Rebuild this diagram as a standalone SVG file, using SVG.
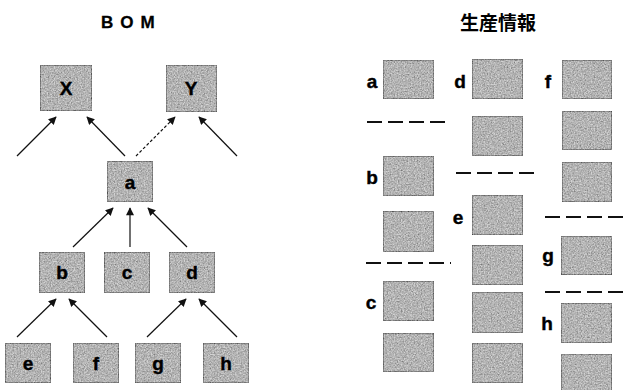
<svg xmlns="http://www.w3.org/2000/svg" width="627" height="390" viewBox="0 0 627 390">
<defs>
<filter id="grain" x="0" y="0" width="1" height="1" color-interpolation-filters="sRGB">
<feTurbulence type="fractalNoise" baseFrequency="0.7" numOctaves="2" seed="7" result="n"/>
<feColorMatrix in="n" type="matrix" values="0.6 0.6 0.6 0 -0.15  0.6 0.6 0.6 0 -0.15  0.6 0.6 0.6 0 -0.15  0 0 0 0 0.5" result="g"/>
<feComposite in="g" in2="SourceGraphic" operator="in" result="gc"/>
<feMerge><feMergeNode in="SourceGraphic"/><feMergeNode in="gc"/></feMerge>
</filter>
<marker id="ah" viewBox="0 0 10 10" refX="9" refY="5" markerWidth="9" markerHeight="8" markerUnits="userSpaceOnUse" orient="auto">
<path d="M0,0 L10,5 L0,10 Z" fill="#111"/>
</marker>
</defs>
<style>
.box{fill:#a6a6a6;stroke:#1a1a1a;stroke-width:1.5;filter:url(#grain)}
.lbl{font-family:"Liberation Sans",Arial,sans-serif;font-weight:bold;font-size:19px;fill:#000;stroke:#000;stroke-width:0.4;text-anchor:middle}
.slbl{font-family:"Liberation Sans",Arial,sans-serif;font-weight:bold;font-size:19px;fill:#000;stroke:#000;stroke-width:0.4;text-anchor:middle}
.title{font-family:"Liberation Sans",Arial,sans-serif;font-weight:bold;font-size:17px;fill:#000;stroke:#000;stroke-width:0.3}
.jtitle{font-family:"Noto Sans CJK JP",sans-serif;font-weight:bold;font-size:19px;fill:#000;text-anchor:middle}
.arr{stroke:#111;stroke-width:1.2;fill:none;marker-end:url(#ah)}
.dash{stroke:#111;stroke-width:2.2;stroke-dasharray:15 6;fill:none}
</style>
<rect width="627" height="390" fill="#fff"/>

<text class="title" x="101" y="28" letter-spacing="7">BOM</text>
<text class="jtitle" x="498" y="30">生産情報</text>

<g id="connectors">
<line class="arr" x1="17" y1="156" x2="56" y2="117"/>
<line class="arr" x1="125" y1="156" x2="87" y2="117"/>
<line class="arr" x1="136" y1="156" x2="175" y2="117" stroke-dasharray="3 2"/>
<line class="arr" x1="237" y1="156" x2="199" y2="117"/>
<line class="arr" x1="73" y1="247" x2="113" y2="208"/>
<line class="arr" x1="130" y1="247" x2="130" y2="208"/>
<line class="arr" x1="187" y1="247" x2="148" y2="208"/>
<line class="arr" x1="17" y1="337" x2="56" y2="299"/>
<line class="arr" x1="107" y1="337" x2="69" y2="299"/>
<line class="arr" x1="147" y1="337" x2="186" y2="299"/>
<line class="arr" x1="237" y1="337" x2="199" y2="299"/>
</g>

<g id="node-X"><rect class="box" x="40" y="65" width="52" height="46"/><text class="lbl" x="66" y="95">X</text></g>
<g id="node-Y"><rect class="box" x="166" y="65" width="51" height="47"/><text class="lbl" x="191" y="95">Y</text></g>
<g id="node-a"><rect class="box" x="107" y="161" width="46" height="41"/><text class="lbl" x="130" y="189">a</text></g>
<g id="node-b"><rect class="box" x="39" y="252" width="46" height="41"/><text class="lbl" x="62" y="279">b</text></g>
<g id="node-c"><rect class="box" x="104" y="252" width="46" height="41"/><text class="lbl" x="127" y="279">c</text></g>
<g id="node-d"><rect class="box" x="169" y="252" width="46" height="41"/><text class="lbl" x="192" y="279">d</text></g>
<g id="node-e"><rect class="box" x="5" y="343" width="46" height="40"/><text class="lbl" x="28" y="370">e</text></g>
<g id="node-f"><rect class="box" x="73" y="343" width="46" height="40"/><text class="lbl" x="96" y="370">f</text></g>
<g id="node-g"><rect class="box" x="135" y="343" width="46" height="40"/><text class="lbl" x="158" y="370">g</text></g>
<g id="node-h"><rect class="box" x="203" y="343" width="46" height="40"/><text class="lbl" x="226" y="370">h</text></g>

<g id="production">
<text class="slbl" x="372" y="88">a</text>
<rect class="box" x="383" y="60" width="51" height="39"/>
<line class="dash" x1="367" y1="122" x2="450" y2="122"/>
<text class="slbl" x="372" y="184">b</text>
<rect class="box" x="383" y="156" width="51" height="40"/>
<rect class="box" x="383" y="211" width="51" height="41"/>
<line class="dash" x1="366" y1="263" x2="451" y2="263"/>
<text class="slbl" x="371" y="309">c</text>
<rect class="box" x="383" y="281" width="51" height="40"/>
<rect class="box" x="383" y="333" width="51" height="39"/>

<text class="slbl" x="460" y="88">d</text>
<rect class="box" x="472" y="59" width="51" height="40"/>
<rect class="box" x="472" y="116" width="51" height="40"/>
<line class="dash" x1="456" y1="173" x2="540" y2="173"/>
<text class="slbl" x="458" y="224">e</text>
<rect class="box" x="472" y="195" width="51" height="40"/>
<rect class="box" x="472" y="245" width="51" height="40"/>
<rect class="box" x="472" y="292" width="51" height="41"/>
<rect class="box" x="472" y="343" width="51" height="40"/>

<text class="slbl" x="548" y="88">f</text>
<rect class="box" x="562" y="60" width="50" height="39"/>
<rect class="box" x="562" y="111" width="50" height="39"/>
<rect class="box" x="562" y="162" width="50" height="40"/>
<line class="dash" x1="545" y1="217" x2="627" y2="217"/>
<text class="slbl" x="548" y="262">g</text>
<rect class="box" x="561" y="236" width="51" height="39"/>
<line class="dash" x1="545" y1="292" x2="627" y2="292"/>
<text class="slbl" x="547" y="330">h</text>
<rect class="box" x="561" y="303" width="51" height="40"/>
<rect class="box" x="561" y="354" width="51" height="40"/>
</g>
</svg>
